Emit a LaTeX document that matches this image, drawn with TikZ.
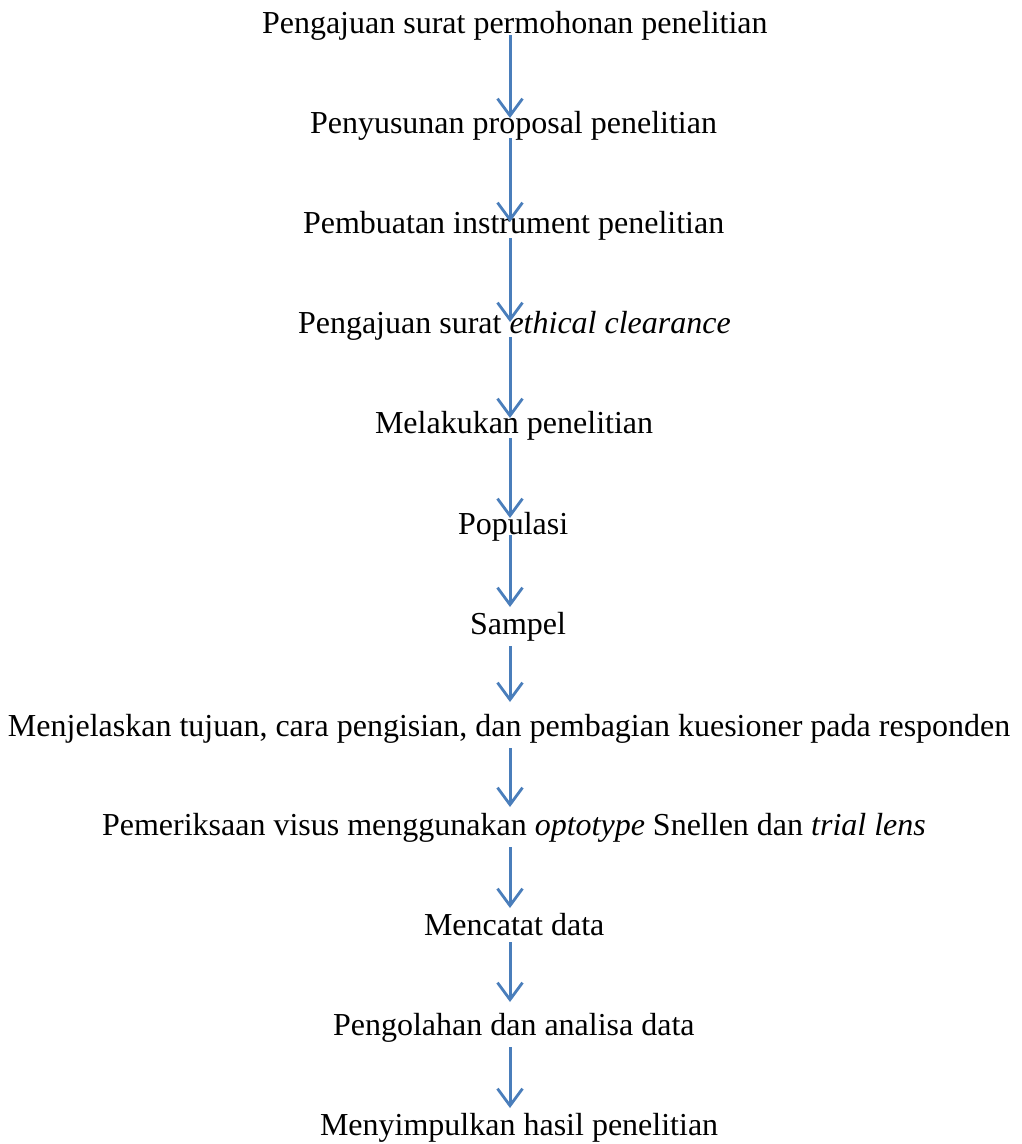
\documentclass[tikz,border=0pt]{standalone}
\usepackage{fontspec}
\setmainfont{Liberation Serif}
\usetikzlibrary{arrows.meta}
\definecolor{arrowblue}{RGB}{74,126,187}
\tikzset{
  lbl/.style={anchor=base west, inner sep=0pt, outer sep=0pt, font=\fontsize{32}{38}\selectfont},
  arr/.style={draw=arrowblue, line width=3pt, -{Straight Barb[length=17pt,width=25pt,line width=2.8pt]}}
}
\begin{document}
\begin{tikzpicture}[x=1pt,y=-1pt]
\useasboundingbox (0,0) rectangle (1021,1144);
\coordinate (ax) at (510,0);
\node[lbl] (n1) at (262,33) {Pengajuan surat permohonan penelitian};
\node[lbl] (n2) at (310,133) {Penyusunan proposal penelitian};
\node[lbl] (n3) at (303,233) {Pembuatan instrument penelitian};
\node[lbl] (n4) at (298,333) {Pengajuan surat \textit{ethical clearance}};
\node[lbl] (n5) at (375,433) {Melakukan penelitian};
\node[lbl] (n6) at (458,534) {Populasi};
\node[lbl] (n7) at (470,634) {Sampel};
\node[lbl] (n8) at (8,736) {Menjelaskan tujuan, cara pengisian, dan pembagian kuesioner pada responden};
\node[lbl] (n9) at (102,835) {Pemeriksaan visus menggunakan \textit{optotype} Snellen dan \textit{trial lens}};
\node[lbl] (n10) at (424,935) {Mencatat data};
\node[lbl] (n11) at (333,1035) {Pengolahan dan analisa data};
\node[lbl] (n12) at (320,1135) {Menyimpulkan hasil penelitian};
\draw[arr, shorten <=2pt, shorten >=15pt] (n1.base -| ax) -- (n2.base -| ax);
\draw[arr, shorten <=5pt, shorten >=11pt] (n2.base -| ax) -- (n3.base -| ax);
\draw[arr, shorten <=5pt, shorten >=11pt] (n3.base -| ax) -- (n4.base -| ax);
\draw[arr, shorten <=4pt, shorten >=15pt] (n4.base -| ax) -- (n5.base -| ax);
\draw[arr, shorten <=5pt, shorten >=16pt] (n5.base -| ax) -- (n6.base -| ax);
\draw[arr, shorten <=1pt, shorten >=27pt] (n6.base -| ax) -- (n7.base -| ax);
\draw[arr, shorten <=12pt, shorten >=34pt] (n7.base -| ax) -- (n8.base -| ax);
\draw[arr, shorten <=12pt, shorten >=28pt] (n8.base -| ax) -- (n9.base -| ax);
\draw[arr, shorten <=12pt, shorten >=27pt] (n9.base -| ax) -- (n10.base -| ax);
\draw[arr, shorten <=7pt, shorten >=33pt] (n10.base -| ax) -- (n11.base -| ax);
\draw[arr, shorten <=12pt, shorten >=27pt] (n11.base -| ax) -- (n12.base -| ax);
\end{tikzpicture}
\end{document}
